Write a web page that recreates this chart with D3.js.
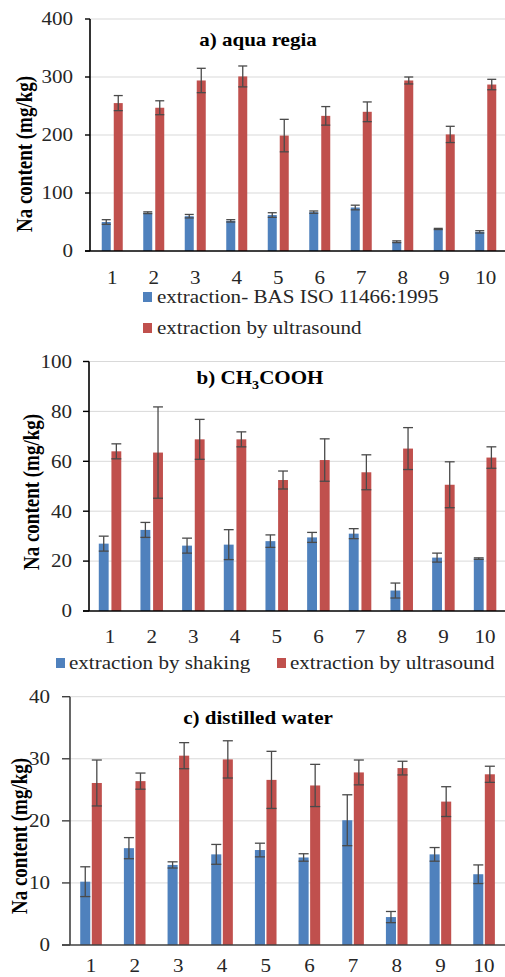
<!DOCTYPE html>
<html><head><meta charset="utf-8">
<script src="https://cdn.jsdelivr.net/npm/d3@7/dist/d3.min.js"></script>
<style>
body{margin:0;background:#fff;overflow:hidden}
svg{display:block}
svg text{font-family:"Liberation Serif","Times New Roman",Times,"DejaVu Serif",serif}
</style>
</head><body>
<script>
// ---------- data ----------
const categories = ["1","2","3","4","5","6","7","8","9","10"];

// a) aqua regia
const aTicks = [0, 100, 200, 300, 400];
const aBlue = [50, 66, 60, 52, 62, 67, 75, 16, 38, 33];
const aBlueErr = [4, 1.5, 3, 2, 4, 2, 4, 1.5, 1, 2];
const aRed = [255, 247, 294, 301, 199, 233, 240, 294, 201, 287];
const aRedErr = [13, 12, 21, 18, 28, 16, 17, 6, 14, 9];
const aLegend = ["extraction- BAS ISO 11466:1995", "extraction by ultrasound"];

// b) CH3COOH
const bTicks = [0, 20, 40, 60, 80, 100];
const bBlue = [27, 32.5, 26.2, 26.6, 28, 29.5, 31, 8.2, 21.4, 21];
const bBlueErr = [3, 3, 3, 6, 2.5, 2, 2, 3, 1.8, 0.3];
const bRed = [64, 63.5, 68.8, 68.8, 52.5, 60.5, 55.6, 65.1, 50.6, 61.5];
const bRedErr = [3, 18.3, 8, 3, 3.6, 8.5, 7, 8.4, 9.2, 4.3];
const bLegend = ["extraction by shaking", "extraction by ultrasound"];

// c) distilled water
const cTicks = [0, 10, 20, 30, 40];
const cBlue = [10.2, 15.6, 12.9, 14.6, 15.3, 14.1, 20.1, 4.5, 14.6, 11.4];
const cBlueErr = [2.4, 1.7, 0.5, 1.6, 1.1, 0.6, 4.1, 0.9, 1.1, 1.5];
const cRed = [26.1, 26.4, 30.5, 29.9, 26.6, 25.7, 27.8, 28.5, 23.1, 27.5];
const cRedErr = [3.7, 1.3, 2.1, 3.0, 4.6, 3.4, 2.0, 1.1, 2.4, 1.3];

const yTitle = "Na content (mg/kg)";
const series = ["blue", "red"];
const colors = {blue: "#4F81BD", red: "#C0504D"};

// ---------- drawing ----------
const W = 505, H = 977;
const SX = 1.17; // horizontal stretch of the reference image

const svg = d3.select("body").append("svg").attr("width", W).attr("height", H);

function txt(g, x, y, s, size, opts = {}) {
  const t = g.append("text")
    .attr("transform", `translate(${x},${y}) scale(${SX},1)` + (opts.rotate ? ` rotate(${opts.rotate})` : ""))
    .attr("font-size", size)
    .attr("font-weight", opts.bold ? "bold" : "normal")
    .attr("fill", opts.fill || "#262626")
    .attr("text-anchor", opts.anchor || "start")
    .attr("dy", "0.35em");
  if (s !== null) t.text(s);
  return t;
}

function panel(cfg) {
  const g = svg.append("g");
  const y = d3.scaleLinear().domain([cfg.ticks[0], cfg.ticks[cfg.ticks.length - 1]]).range([cfg.y0, cfg.y1]);
  const x = d3.scaleBand().domain(categories).range([cfg.x0, cfg.x1]).paddingInner(cfg.pin).paddingOuter(cfg.pin / 2);
  const x1 = d3.scaleBand().domain(series).range([0, x.bandwidth()]).paddingInner(cfg.gap);

  // gridlines
  g.selectAll(".grid").data(cfg.ticks.slice(1)).join("line")
    .attr("x1", cfg.axisX).attr("x2", W).attr("y1", d => y(d)).attr("y2", d => y(d))
    .attr("stroke", "#D9D9D9").attr("stroke-width", 1);

  // bars
  const sets = {blue: [cfg.blue, cfg.blueErr], red: [cfg.red, cfg.redErr]};
  series.forEach(s => {
    const [vals, errs] = sets[s];
    const gs = g.append("g");
    gs.selectAll("rect").data(categories).join("rect")
      .attr("x", (c) => x(c) + x1(s)).attr("width", x1.bandwidth())
      .attr("y", (c, i) => y(vals[i])).attr("height", (c, i) => y(0) - y(vals[i]))
      .attr("fill", colors[s]);
    const eb = gs.selectAll("g").data(categories).join("g").attr("stroke", "#4a4a4a").attr("stroke-width", 1.3);
    const cx = c => x(c) + x1(s) + x1.bandwidth() / 2;
    const cw = x1.bandwidth() / 2;
    eb.append("line").attr("x1", cx).attr("x2", cx)
      .attr("y1", (c, i) => y(vals[i] - errs[i])).attr("y2", (c, i) => y(vals[i] + errs[i]));
    eb.append("line").attr("x1", c => cx(c) - cw).attr("x2", c => cx(c) + cw)
      .attr("y1", (c, i) => y(vals[i] + errs[i])).attr("y2", (c, i) => y(vals[i] + errs[i]));
    eb.append("line").attr("x1", c => cx(c) - cw).attr("x2", c => cx(c) + cw)
      .attr("y1", (c, i) => y(vals[i] - errs[i])).attr("y2", (c, i) => y(vals[i] - errs[i]));
  });

  // axes
  g.append("line").attr("x1", cfg.axisX).attr("x2", cfg.axisX).attr("y1", y(cfg.ticks[0])).attr("y2", y(cfg.ticks[cfg.ticks.length - 1]))
    .attr("stroke", cfg.axisColor).attr("stroke-width", 1.6);
  g.selectAll(".tk").data(cfg.ticks).join("line")
    .attr("x1", cfg.axisX - cfg.tickLen).attr("x2", cfg.axisX).attr("y1", d => y(d)).attr("y2", d => y(d))
    .attr("stroke", cfg.axisColor).attr("stroke-width", 1.4);
  g.append("line").attr("x1", cfg.axisX - cfg.tickLen).attr("x2", W).attr("y1", y(0)).attr("y2", y(0))
    .attr("stroke", cfg.axisColor).attr("stroke-width", 1.6);

  cfg.ticks.forEach(t => txt(g, cfg.axisX - cfg.labelOff, y(t), String(t), 18, {anchor: "end"}));
  categories.forEach(c => txt(g, x(c) + x.bandwidth() / 2, cfg.xLabelY, c, 18, {anchor: "middle"}));

  // y title
  txt(g, cfg.yTitleX, cfg.yTitleY, yTitle, 19, {bold: true, anchor: "middle", rotate: -90, fill: "#000"});

  // chart title
  const tt = txt(g, cfg.titleX, cfg.titleY, null, 18, {bold: true, anchor: "middle", fill: "#000"});
  cfg.title.forEach(p => {
    const sp = tt.append("tspan").text(p.t);
    if (p.sub) sp.attr("font-size", 12).attr("baseline-shift", "-0.35em");
  });
  return g;
}

// panel a
const ga = panel({ticks: aTicks, blue: aBlue, blueErr: aBlueErr, red: aRed, redErr: aRedErr,
  y0: 251, y1: 19, x0: 91.5, x1: 506.5, pin: 0.494, gap: 0.25, axisX: 90, tickLen: 5, labelOff: 17,
  axisColor: "#000", xLabelY: 278, yTitleX: 24, yTitleY: 154, titleX: 258, titleY: 40,
  title: [{t: "a) aqua regia"}]});
// legend a (stacked)
aLegend.forEach((l, i) => {
  const yy = [297, 328][i];
  ga.append("rect").attr("x", 143).attr("y", yy - 5).attr("width", 9).attr("height", 10).attr("fill", colors[series[i]]);
  txt(ga, 157, yy, l, 18);
});

// panel b
const gb = panel({ticks: bTicks, blue: bBlue, blueErr: bBlueErr, red: bRed, redErr: bRedErr,
  y0: 611, y1: 361.5, x0: 89.2, x1: 505.9, pin: 0.46, gap: 0.22, axisX: 89, tickLen: 6, labelOff: 17,
  axisColor: "#000", xLabelY: 637, yTitleX: 31, yTitleY: 492, titleX: 260, titleY: 378,
  title: [{t: "b) CH"}, {t: "3", sub: true}, {t: "COOH"}]});
// legend b (one row)
bLegend.forEach((l, i) => {
  const sx = [56, 277][i];
  gb.append("rect").attr("x", sx).attr("y", 658).attr("width", 9).attr("height", 10).attr("fill", colors[series[i]]);
  txt(gb, sx + 13, 663, l, 18);
});

// panel c
panel({ticks: cTicks, blue: cBlue, blueErr: cBlueErr, red: cRed, redErr: cRedErr,
  y0: 945, y1: 696.7, x0: 69.2, x1: 505.9, pin: 0.505, gap: 0.13, axisX: 70, tickLen: 8, labelOff: 20,
  axisColor: "#404040", xLabelY: 966, yTitleX: 19, yTitleY: 836, titleX: 258, titleY: 718,
  title: [{t: "c) distilled water"}]});
</script>
</body></html>
